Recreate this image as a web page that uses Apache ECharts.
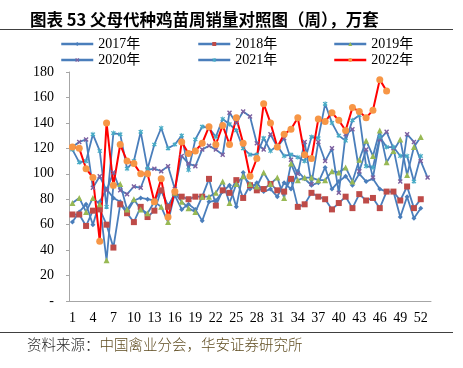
<!DOCTYPE html>
<html>
<head>
<meta charset="utf-8">
<script src="https://cdn.jsdelivr.net/npm/echarts@6/dist/echarts.min.js"></script>
<style>
  html, body { margin: 0; padding: 0; background: #fff; }
  #chart { width: 463px; height: 368px; }
</style>
</head>
<body>
<div id="chart"></div>
<script>
// weeks 1..53 (2020 has a 53rd week)
const weeks = [];
for (let i = 1; i <= 53; i++) weeks.push(String(i));

const y2017 = [62,70,76,60,78,88,81,78,70,79,81,80,79,87,75,83,72,76,72,63,78,79,86,91,74,101,88,93,86,88,82,93,88,102,96,91,93,105,88,94,98,91,100,94,96,88,86,86,66,82,65,73];
const y2018 = [68,68,59,71,72,60,42,76,69,62,74,66,71,87,74,85,82,80,82,82,96,75,87,85,95,81,91,87,88,92,87,86,96,74,76,85,82,80,72,77,82,73,84,79,81,73,86,86,79,90,73,80];
const y2019 = [77,81,70,81,76,32,91,92,72,80,72,69,78,74,62,85,78,73,70,82,82,85,94,77,92,98,92,90,101,92,97,81,108,95,97,97,95,95,102,101,105,94,111,126,114,134,109,118,127,99,121,129];
const y2020 = [121,125,127,89,98,87,101,87,84,90,89,103,104,102,106,88,114,108,106,119,122,119,115,148,140,149,145,124,119,131,121,128,111,100,125,92,125,110,120,85,131,135,102,119,97,127,133,120,94,131,125,110,97];
const y2021 = [119,109,110,131,118,74,132,131,104,110,133,104,123,136,120,123,130,103,127,137,136,129,143,139,134,120,115,115,128,118,122,114,115,113,110,129,128,155,140,130,126,142,146,106,105,129,121,121,114,114,94,114];
const y2022 = [121,120,104,97,47,140,91,123,110,108,100,100,78,96,66,86,125,116,118,124,137,123,138,123,144,124,98,112,155,140,121,131,135,144,115,112,143,141,148,142,134,152,149,144,150,174,165];

const yTicks = [0, 20, 40, 60, 80, 100, 120, 140, 160, 180];

const LINE_BLUE = '#4a7ebb';
const xMark = 'path://M2,0L5,3L8,0L10,2L7,5L10,8L8,10L5,7L2,10L0,8L3,5L0,2Z';
const starMark = 'path://M2,0L5,3L8,0L10,2L7,5L10,8L8,10L5,7L2,10L0,8L3,5L0,2Z M4.2,-1L5.8,-1L5.8,11L4.2,11Z';

function mkSeries(name, data, symbol, markColor, lineColor, size) {
    return {
        name: name,
        type: 'line',
        data: data,
        symbol: symbol,
        symbolSize: size,
        showAllSymbol: true,
        lineStyle: { color: lineColor, width: lineColor === LINE_BLUE ? 1.8 : 2 },
        itemStyle: { color: markColor },
        emphasis: { disabled: true },
        animation: false
    };
}

const serif = '"Liberation Serif", "Noto Sans CJK SC", serif';

function legendAt(left, names) {
    return {
        orient: 'vertical',
        left: left,
        top: 36,
        padding: 0,
        itemWidth: 32,
        itemHeight: 5,
        itemGap: 0,
        data: names,
        lineStyle: { width: 2.5 },
        textStyle: { fontFamily: serif, fontSize: 14, lineHeight: 16, color: '#000', padding: [0, 0, 0, 0] }
    };
}

const chart = echarts.init(document.getElementById('chart'));
chart.setOption({
    backgroundColor: '#fff',
    title: {
        text: '图表 53 父母代种鸡苗周销量对照图（周），万套',
        left: 25,
        top: 6,
        textStyle: { fontFamily: '"Noto Sans CJK SC", sans-serif', fontSize: 16.5, fontWeight: 'bold', color: '#000' }
    },
    legend: [
        legendAt(60, ['2017年', '2020年']),
        legendAt(197, ['2018年', '2021年']),
        legendAt(333, ['2019年', '2022年'])
    ],
    grid: { left: 69, right: 32, top: 72, bottom: 67 },
    xAxis: {
        type: 'category',
        data: weeks,
        boundaryGap: true,
        axisLine: { lineStyle: { color: '#a6a6a6', width: 1 } },
        axisTick: { show: false },
        axisLabel: { interval: 2, margin: 10, fontFamily: serif, fontSize: 14, color: '#000' }
    },
    yAxis: {
        type: 'value',
        min: 0,
        max: 180,
        interval: 20,
        splitLine: { show: false },
        axisLine: { show: true, lineStyle: { color: '#a6a6a6', width: 1 } },
        axisTick: { show: true, length: 3, lineStyle: { color: '#a6a6a6' } },
        axisLabel: {
            margin: 15,
            fontFamily: serif,
            fontSize: 14,
            color: '#000',
            formatter: function (v) { return v === 0 ? '-' : (yTicks.indexOf(v) >= 0 ? String(v) : ''); }
        }
    },
    series: [
        mkSeries('2017年', y2017, 'diamond', '#4a7ebb', LINE_BLUE, 5),
        mkSeries('2018年', y2018, 'rect', '#be4b48', LINE_BLUE, 6),
        mkSeries('2019年', y2019, 'triangle', '#98b954', LINE_BLUE, 6),
        mkSeries('2020年', y2020, xMark, '#7d60a0', LINE_BLUE, 5),
        mkSeries('2021年', y2021, starMark, '#46aac5', LINE_BLUE, 5),
        mkSeries('2022年', y2022, 'circle', '#f79646', '#ff0000', 7)
    ],
    graphic: [
        { type: 'line', shape: { x1: 0, y1: 29.5, x2: 453, y2: 29.5 }, style: { stroke: '#404040', lineWidth: 1 } },
        { type: 'line', shape: { x1: 0, y1: 332.5, x2: 453, y2: 332.5 }, style: { stroke: '#404040', lineWidth: 1 } },
        {
            type: 'text',
            left: 27,
            top: 337,
            style: {
                text: '{a|资料来源：}{b|中国禽业分会，华安证券研究所}',
                rich: {
                    a: { fontFamily: '"Noto Sans CJK SC", sans-serif', fontSize: 14.5, fontWeight: 300, fill: '#222' },
                    b: { fontFamily: '"Noto Sans CJK SC", sans-serif', fontSize: 14.5, fontWeight: 300, fill: '#5e4b1f' }
                }
            }
        }
    ]
});
</script>
</body>
</html>
